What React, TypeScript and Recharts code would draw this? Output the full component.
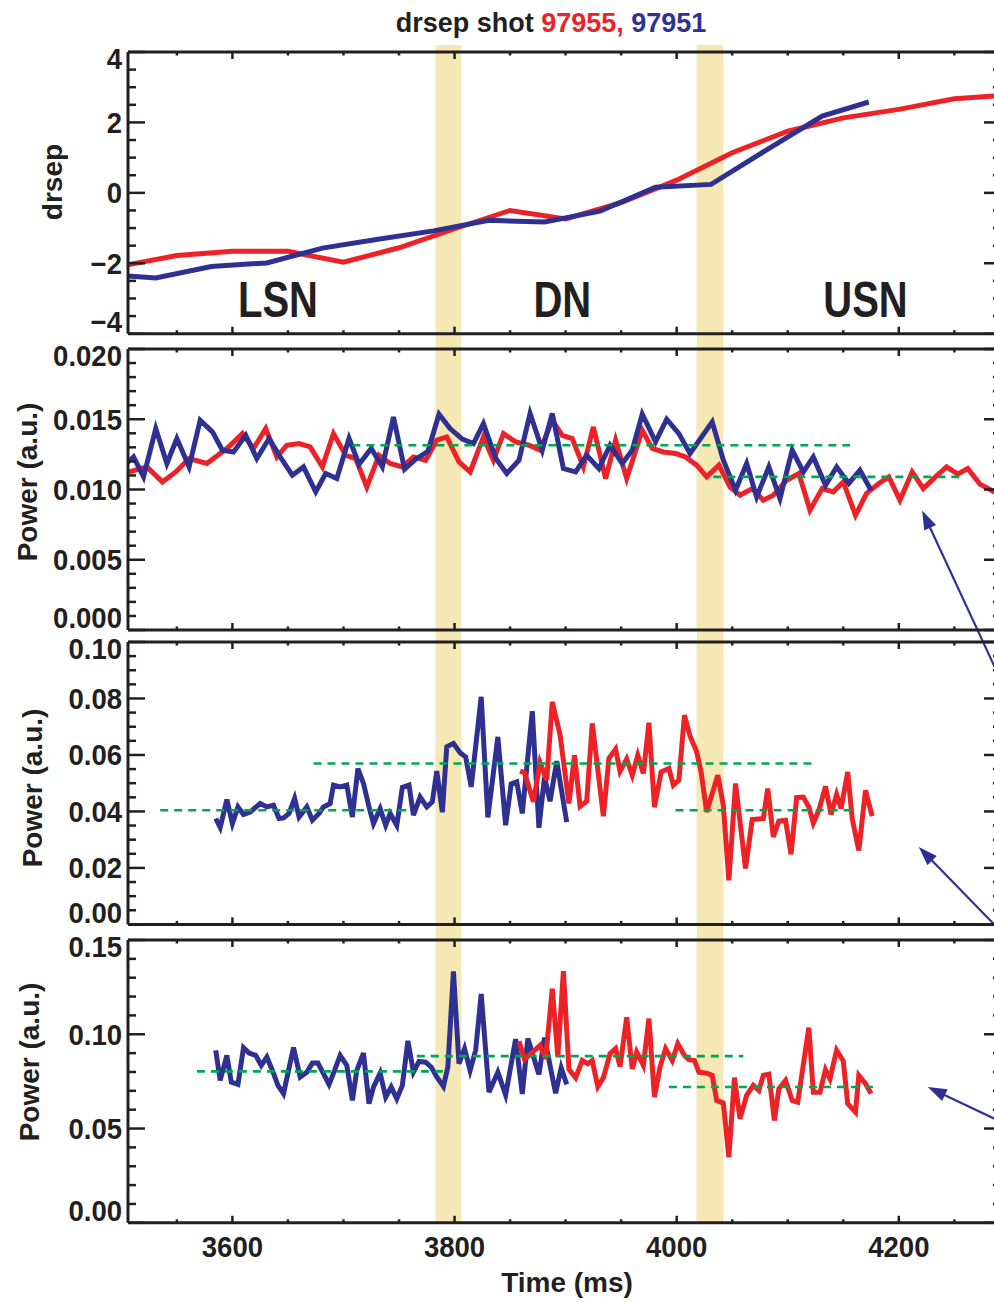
import React from 'react';
import { LineChart, Line, XAxis, YAxis, ReferenceArea, ReferenceLine, ReferenceDot } from 'recharts';

const FONT = '"Liberation Sans", Arial, Helvetica, sans-serif';
const INK = '#231f20';
const RED = '#ec2227';
const BLUE = '#2e3192';
const GREEN = '#00a651';
const BAND = '#f6e8b4';

// shared time axis (ms)
const T_MIN = 3506;
const T_MAX = 4292;
const xTicks = [3550, 3600, 3650, 3700, 3750, 3800, 3850, 3900, 3950, 4000, 4050, 4100, 4150, 4200, 4250];
const xMajor = [3600, 3800, 4000, 4200];
const transitions = [
  { from: 3783, to: 3806 },
  { from: 4018, to: 4042 },
];

// panel 1: drsep
const drsep97955: [number, number][] = [
  [3500, -2.08], [3550, -1.78], [3600, -1.66], [3650, -1.66], [3700, -1.97], [3750, -1.56],
  [3800, -1.02], [3850, -0.5], [3900, -0.74], [3950, -0.28], [4000, 0.36], [4050, 1.14],
  [4100, 1.75], [4150, 2.13], [4200, 2.37], [4250, 2.67], [4300, 2.78],
];
const drsep97951: [number, number][] = [
  [3500, -2.35], [3531, -2.42], [3581, -2.09], [3631, -1.99], [3681, -1.57], [3731, -1.32],
  [3781, -1.08], [3831, -0.78], [3881, -0.83], [3931, -0.52], [3981, 0.16], [4031, 0.24],
  [4081, 1.22], [4131, 2.18], [4173, 2.58],
];
const regions = [
  { name: 'LSN', t: 3641 },
  { name: 'DN', t: 3897 },
  { name: 'USN', t: 4170 },
];

// panel 2
const p2Red: [number, number][] = [
  [3507, 0.01125], [3523, 0.01161], [3537, 0.01054], [3549, 0.01125], [3561, 0.0122], [3577, 0.01185],
  [3595, 0.01292], [3609, 0.01398], [3619, 0.01292], [3630, 0.01434], [3640, 0.01232], [3649, 0.01315],
  [3660, 0.01327], [3670, 0.01303], [3681, 0.01161], [3691, 0.01398], [3702, 0.01244], [3711, 0.0122],
  [3721, 0.01018], [3732, 0.01244], [3742, 0.01185], [3753, 0.01161], [3763, 0.01232], [3774, 0.01208],
  [3784, 0.01351], [3793, 0.01374], [3804, 0.01196], [3814, 0.01125], [3826, 0.01374], [3835, 0.01208],
  [3844, 0.01398], [3855, 0.01339], [3867, 0.01315], [3877, 0.0128], [3888, 0.01493], [3897, 0.01386],
  [3906, 0.01363], [3916, 0.01161], [3925, 0.01445], [3936, 0.01078], [3945, 0.01351], [3955, 0.01078],
  [3969, 0.01422], [3978, 0.01292], [3988, 0.01267], [3999, 0.01256], [4008, 0.01232], [4018, 0.01173],
  [4027, 0.0109], [4038, 0.01173], [4048, 0.01018], [4057, 0.00959], [4068, 0.01007], [4078, 0.00924],
  [4087, 0.0096], [4099, 0.01066], [4110, 0.01114], [4120, 0.00853], [4131, 0.01007], [4141, 0.00983],
  [4150, 0.01054], [4161, 0.00817], [4171, 0.00972], [4182, 0.01043], [4191, 0.0109], [4201, 0.00924],
  [4212, 0.01125], [4222, 0.01007], [4233, 0.0109], [4243, 0.01161], [4253, 0.01109], [4262, 0.01149],
  [4273, 0.01038], [4286, 0.00983], [4296, 0.0096],
];
const p2Blue: [number, number][] = [
  [3503, 0.01173], [3511, 0.01232], [3520, 0.0109], [3531, 0.01434], [3541, 0.01185], [3550, 0.01363],
  [3561, 0.01161], [3571, 0.01493], [3582, 0.0141], [3591, 0.0128], [3601, 0.01267], [3612, 0.01386],
  [3622, 0.0122], [3633, 0.01363], [3643, 0.01232], [3654, 0.01102], [3664, 0.01161], [3675, 0.00983],
  [3684, 0.01114], [3694, 0.01078], [3705, 0.01363], [3714, 0.0118], [3725, 0.01292], [3735, 0.01161],
  [3745, 0.01516], [3755, 0.01144], [3765, 0.01216], [3776, 0.01272], [3786, 0.01536], [3796, 0.01434],
  [3807, 0.01358], [3817, 0.01327], [3826, 0.01469], [3837, 0.01223], [3847, 0.01114], [3858, 0.01208],
  [3868, 0.01541], [3879, 0.0128], [3888, 0.01541], [3898, 0.01149], [3909, 0.01125], [3919, 0.01244],
  [3930, 0.01149], [3940, 0.01315], [3951, 0.01185], [3960, 0.0128], [3969, 0.01536], [3981, 0.01339],
  [3991, 0.015], [4002, 0.01398], [4012, 0.01256], [4032, 0.01481], [4042, 0.01208], [4053, 0.00995],
  [4063, 0.01185], [4072, 0.00947], [4083, 0.01161], [4093, 0.00936], [4104, 0.0128], [4114, 0.01125],
  [4123, 0.01232], [4134, 0.0103], [4144, 0.01161], [4155, 0.01043], [4165, 0.01137], [4175, 0.00995],
];
const p2Levels = [
  { from: 3708, to: 4156, v: 0.01315 },
  { from: 4033, to: 4257, v: 0.0109 },
];

// panel 3
const p3Blue: [number, number][] = [
  [3585, 0.0375], [3589, 0.0343], [3595, 0.0442], [3600, 0.0357], [3605, 0.0416], [3610, 0.0389],
  [3616, 0.0398], [3625, 0.0428], [3631, 0.0416], [3637, 0.0422], [3642, 0.0375], [3646, 0.0377],
  [3651, 0.0393], [3656, 0.0446], [3660, 0.038], [3667, 0.0416], [3672, 0.0369], [3678, 0.0393],
  [3682, 0.0416], [3688, 0.0428], [3691, 0.0493], [3697, 0.0487], [3703, 0.0493], [3708, 0.038],
  [3713, 0.0552], [3718, 0.0499], [3723, 0.0416], [3727, 0.0357], [3733, 0.041], [3738, 0.0351],
  [3742, 0.0393], [3748, 0.0351], [3753, 0.0485], [3759, 0.0493], [3763, 0.0387], [3769, 0.0451],
  [3775, 0.0416], [3780, 0.0434], [3784, 0.0543], [3789, 0.0397], [3793, 0.0629], [3799, 0.0641],
  [3805, 0.0608], [3810, 0.0593], [3815, 0.0487], [3824, 0.0806], [3830, 0.0379], [3839, 0.0664],
  [3846, 0.0351], [3851, 0.0498], [3856, 0.0505], [3861, 0.0393], [3870, 0.0755], [3876, 0.0342],
  [3881, 0.0522], [3886, 0.0436], [3892, 0.0578], [3901, 0.0362],
];
const p3Red: [number, number][] = [
  [3859, 0.0543], [3863, 0.0537], [3871, 0.0434], [3877, 0.0573], [3883, 0.0511], [3888, 0.0788],
  [3895, 0.0671], [3903, 0.0428], [3908, 0.0599], [3913, 0.0418], [3919, 0.0436], [3924, 0.0712],
  [3934, 0.0383], [3939, 0.0588], [3945, 0.0621], [3949, 0.0542], [3955, 0.0586], [3960, 0.0528],
  [3965, 0.0599], [3970, 0.0534], [3975, 0.0714], [3980, 0.0415], [3986, 0.054], [3993, 0.0552],
  [3997, 0.0493], [4002, 0.0511], [4007, 0.0741], [4012, 0.0667], [4018, 0.0611], [4022, 0.054],
  [4027, 0.0398], [4032, 0.0463], [4037, 0.0528], [4042, 0.0422], [4047, 0.0156], [4053, 0.0499],
  [4062, 0.0198], [4068, 0.0371], [4078, 0.0375], [4082, 0.0481], [4087, 0.031], [4092, 0.0366],
  [4098, 0.0369], [4103, 0.0248], [4108, 0.0449], [4114, 0.0451], [4119, 0.0416], [4123, 0.0359],
  [4128, 0.0404], [4134, 0.0489], [4139, 0.0389], [4144, 0.046], [4148, 0.041], [4154, 0.054],
  [4158, 0.0375], [4164, 0.0262], [4170, 0.0475], [4176, 0.0383],
];
const p3Levels = [
  { from: 3535, to: 3758, v: 0.0404 },
  { from: 3673, to: 4122, v: 0.057 },
  { from: 3999, to: 4162, v: 0.0404 },
];

// panel 4
const p4Blue: [number, number][] = [
  [3585, 0.0915], [3589, 0.0755], [3595, 0.0888], [3599, 0.0746], [3605, 0.0734], [3610, 0.0929],
  [3615, 0.09], [3621, 0.0888], [3626, 0.0835], [3631, 0.0879], [3636, 0.0808], [3641, 0.0729],
  [3646, 0.0685], [3655, 0.0929], [3661, 0.0773], [3667, 0.0799], [3672, 0.0847], [3677, 0.0847],
  [3682, 0.0791], [3687, 0.0734], [3692, 0.0808], [3697, 0.0888], [3703, 0.0835], [3708, 0.0649],
  [3712, 0.0808], [3718, 0.09], [3723, 0.0632], [3727, 0.072], [3733, 0.0794], [3738, 0.0667],
  [3743, 0.072], [3748, 0.0658], [3753, 0.0729], [3758, 0.0965], [3763, 0.0799], [3768, 0.0856],
  [3774, 0.0852], [3779, 0.0826], [3784, 0.0774], [3790, 0.0723], [3794, 0.0827], [3799, 0.1333],
  [3804, 0.0844], [3809, 0.0924], [3814, 0.0808], [3819, 0.0915], [3824, 0.1214], [3831, 0.0693],
  [3839, 0.0799], [3846, 0.0678], [3855, 0.0974], [3861, 0.0683], [3866, 0.0977], [3876, 0.0787],
  [3881, 0.0982], [3891, 0.0687], [3896, 0.0822], [3901, 0.0734],
];
const p4Red: [number, number][] = [
  [3858, 0.0963], [3863, 0.0867], [3869, 0.0897], [3877, 0.0941], [3882, 0.087], [3888, 0.1242],
  [3893, 0.0879], [3898, 0.1335], [3903, 0.0814], [3909, 0.0769], [3915, 0.0861], [3920, 0.0844],
  [3924, 0.0861], [3929, 0.0722], [3934, 0.0769], [3940, 0.0897], [3945, 0.0924], [3949, 0.0828],
  [3955, 0.109], [3960, 0.0817], [3964, 0.0906], [3970, 0.0835], [3975, 0.1083], [3980, 0.0667],
  [3985, 0.0826], [3990, 0.0924], [3996, 0.0861], [4001, 0.095], [4007, 0.0888], [4011, 0.0865],
  [4016, 0.0861], [4020, 0.0799], [4027, 0.0794], [4032, 0.0782], [4036, 0.0649], [4042, 0.0635],
  [4047, 0.0348], [4052, 0.077], [4057, 0.0552], [4063, 0.0676], [4069, 0.0729], [4074, 0.0702],
  [4078, 0.0782], [4083, 0.0788], [4088, 0.0543], [4092, 0.0711], [4098, 0.0755], [4104, 0.0649],
  [4109, 0.064], [4119, 0.1035], [4123, 0.0693], [4129, 0.0693], [4134, 0.0812], [4138, 0.0764],
  [4144, 0.0915], [4150, 0.0858], [4154, 0.0632], [4161, 0.0587], [4164, 0.0782], [4170, 0.0738],
  [4175, 0.0685],
];
const p4Levels = [
  { from: 3568, to: 3792, v: 0.0803 },
  { from: 3766, to: 4060, v: 0.0884 },
  { from: 3993, to: 4180, v: 0.072 },
];

const p1Ticks = [-4, -3.5, -3, -2.5, -2, -1.5, -1, -0.5, 0, 0.5, 1, 1.5, 2, 2.5, 3, 3.5, 4];
const p1Major = [-4, -2, 0, 2, 4];
const p1Labels = ['\u22124', '\u22122', '0', '2', '4'];
const p2Ticks = [0, 0.001, 0.002, 0.003, 0.004, 0.005, 0.006, 0.007, 0.008, 0.009, 0.01, 0.011, 0.012, 0.013, 0.014, 0.015, 0.016, 0.017, 0.018, 0.019, 0.02];
const p2Major = [0, 0.005, 0.01, 0.015, 0.02];
const p2Labels = ['0.000', '0.005', '0.010', '0.015', '0.020'];
const p3Ticks = [0, 0.005, 0.01, 0.015, 0.02, 0.025, 0.03, 0.035, 0.04, 0.045, 0.05, 0.055, 0.06, 0.065, 0.07, 0.075, 0.08, 0.085, 0.09, 0.095, 0.1];
const p3Major = [0, 0.02, 0.04, 0.06, 0.08, 0.1];
const p3Labels = ['0.00', '0.02', '0.04', '0.06', '0.08', '0.10'];
const p4Ticks = [0, 0.01, 0.02, 0.03, 0.04, 0.05, 0.06, 0.07, 0.08, 0.09, 0.1, 0.11, 0.12, 0.13, 0.14, 0.15];
const p4Major = [0, 0.05, 0.1, 0.15];
const p4Labels = ['0.00', '0.05', '0.10', '0.15'];

// annotation arrows (tail, head) in each panel's data units
const p2Arrow = { tail: [4292, -0.0036], head: [4221, 0.0085] };
const p3Arrow = { tail: [4292, -0.0025], head: [4218, 0.0274] };
const p4Arrow = { tail: [4292, 0.0536], head: [4226, 0.072] };

const toPts = (arr: [number, number][]) => arr.map(([t, v]) => ({ t, v }));

const CHART_W = 1002;
const LEFT = 128;
const TOP_PAD = 30;
const TICK_FONT = 29;

const near = (a: number, b: number) => Math.abs(a - b) < 1e-9;

function YTick(props: any) {
  const { x, y, payload, side, major, labels, lo, hi } = props;
  const v = payload.value;
  const idx = major.findIndex((m: number) => near(m, v));
  const isMajor = idx >= 0;
  const len = isMajor ? 17 : 8;
  const dir = side === 'left' ? 1 : -1;
  let dy = 0;
  if (near(v, hi)) dy = 7;
  if (near(v, lo)) dy = -12;
  return (
    <g>
      <line x1={x} y1={y} x2={x + dir * len} y2={y} stroke={INK} strokeWidth={2.5} />
      {side === 'left' && isMajor && (
        <text transform={`translate(${x - 6},${y + dy}) scale(0.95,1)`} textAnchor="end" dominantBaseline="central"
          style={{ fontFamily: FONT, fontWeight: 'bold', fontSize: TICK_FONT, fill: INK }}>
          {labels[idx]}
        </text>
      )}
    </g>
  );
}

function XTick(props: any) {
  const { x, y, payload, side, showLabel } = props;
  const v = payload.value;
  const isMajor = xMajor.includes(v);
  const len = isMajor ? 7 : 3.5;
  const dir = side === 'bottom' ? -1 : 1;
  return (
    <g>
      <line x1={x} y1={y} x2={x} y2={y + dir * len} stroke={INK} strokeWidth={2.5} />
      {showLabel && isMajor && (
        <text transform={`translate(${x},${y + 24}) scale(0.95,1)`} textAnchor="middle" dominantBaseline="central"
          style={{ fontFamily: FONT, fontWeight: 'bold', fontSize: TICK_FONT, fill: INK }}>
          {v}
        </text>
      )}
    </g>
  );
}

function RegionLabel(props: any) {
  const { viewBox, value } = props;
  return (
    <text transform={`translate(${viewBox.x},${viewBox.y}) scale(0.8,1)`} textAnchor="middle" dominantBaseline="central"
      style={{ fontFamily: FONT, fontWeight: 'bold', fontSize: 50, fill: INK }}>
      {value}
    </text>
  );
}

function Arrow(props: any) {
  const { x1, y1, x2, y2 } = props;
  const ang = Math.atan2(y2 - y1, x2 - x1);
  const L = 19;
  const W = 6.5;
  const bx = x2 - L * Math.cos(ang);
  const by = y2 - L * Math.sin(ang);
  const px = -Math.sin(ang) * W;
  const py = Math.cos(ang) * W;
  return (
    <g>
      <line x1={x1} y1={y1} x2={bx + 4 * Math.cos(ang)} y2={by + 4 * Math.sin(ang)} stroke={BLUE} strokeWidth={2.2} />
      <polygon points={`${x2},${y2} ${bx + px},${by + py} ${bx - px},${by - py}`} fill={BLUE} />
    </g>
  );
}

type Series = { data: [number, number][]; color: string };
type PanelProps = {
  top: number;
  h: number;
  bottomPad: number;
  domain: [number, number];
  ticks: number[];
  major: number[];
  labels: string[];
  series: Series[];
  levels?: { from: number; to: number; v: number }[];
  arrow?: { tail: number[]; head: number[] };
  showX?: boolean;
  regionY?: number;
};

function Panel(p: PanelProps) {
  const axisLine = { stroke: INK, strokeWidth: 3 };
  const yTick = (side: string) => (
    <YTick side={side} major={p.major} labels={p.labels} lo={p.domain[0]} hi={p.domain[1]} />
  );
  return (
    <div style={{ position: 'absolute', left: 0, top: p.top - TOP_PAD }}>
      <LineChart width={CHART_W} height={p.h + TOP_PAD + p.bottomPad}
        margin={{ top: TOP_PAD - 1, right: 0, left: 0, bottom: p.bottomPad - 1 }}>
        {transitions.map((b, i) => (
          <ReferenceArea key={'band' + i} xAxisId="b" yAxisId="l" x1={b.from} x2={b.to}
            fill={BAND} fillOpacity={1} stroke="none" />
        ))}
        <XAxis xAxisId="b" dataKey="t" type="number" domain={[T_MIN, T_MAX]} allowDataOverflow
          ticks={xTicks} interval={0} height={1} tickSize={0} tickMargin={0} tickLine={false}
          axisLine={axisLine} tick={<XTick side="bottom" showLabel={!!p.showX} />} />
        <XAxis xAxisId="t" orientation="top" dataKey="t" type="number" domain={[T_MIN, T_MAX]} allowDataOverflow
          ticks={xTicks} interval={0} height={1} tickSize={0} tickMargin={0} tickLine={false}
          axisLine={axisLine} tick={<XTick side="top" showLabel={false} />} />
        <YAxis yAxisId="l" type="number" domain={p.domain} allowDataOverflow ticks={p.ticks} interval={0}
          width={LEFT} tickSize={0} tickMargin={0} tickLine={false} axisLine={axisLine} tick={yTick('left')} />
        <YAxis yAxisId="r" orientation="right" type="number" domain={p.domain} allowDataOverflow ticks={p.ticks}
          interval={0} width={1} tickSize={0} tickMargin={0} tickLine={false} axisLine={axisLine} tick={yTick('right')} />
        {p.series.map((s, i) => (
          <Line key={i} xAxisId="b" yAxisId="l" data={toPts(s.data)} dataKey="v" type="linear"
            stroke={s.color} strokeWidth={5} dot={false} activeDot={false} isAnimationActive={false} />
        ))}
        {(p.levels || []).map((lv, i) => (
          <ReferenceLine key={'lv' + i} xAxisId="b" yAxisId="l" ifOverflow="visible"
            segment={[{ x: lv.from, y: lv.v }, { x: lv.to, y: lv.v }]}
            stroke={GREEN} strokeWidth={2.6} strokeDasharray="8 6" />
        ))}
        {p.arrow && (
          <ReferenceLine xAxisId="b" yAxisId="l" ifOverflow="visible"
            segment={[{ x: p.arrow.tail[0], y: p.arrow.tail[1] }, { x: p.arrow.head[0], y: p.arrow.head[1] }]}
            shape={Arrow} />
        )}
        {p.regionY !== undefined && regions.map((r) => (
          <ReferenceDot key={r.name} xAxisId="b" yAxisId="l" x={r.t} y={p.regionY} r={0} stroke="none" fill="none"
            ifOverflow="visible" label={<RegionLabel value={r.name} />} />
        ))}
      </LineChart>
    </div>
  );
}

// gaps between panels where the transition bands continue
function BandGaps() {
  return (
    <div style={{ position: 'absolute', left: 0, top: 0 }}>
      <LineChart width={CHART_W} height={1222} margin={{ top: 45, right: 1, left: LEFT, bottom: 0 }}
        data={transitions.map((b) => ({ t: b.from, v: 0 }))}>
        <XAxis dataKey="t" type="number" domain={[T_MIN, T_MAX]} allowDataOverflow hide />
        <YAxis type="number" domain={[0, 1]} hide />
        <Line dataKey="v" stroke="none" dot={false} activeDot={false} isAnimationActive={false} />
        {transitions.map((b, i) => (
          <ReferenceArea key={i} x1={b.from} x2={b.to} fill={BAND} fillOpacity={1} stroke="none" />
        ))}
      </LineChart>
    </div>
  );
}

const titleFont = { fontFamily: FONT, fontWeight: 'bold' as const, color: INK, whiteSpace: 'nowrap' as const };

function VTitle({ text, cx, cy }: { text: string; cx: number; cy: number }) {
  return (
    <div style={{ ...titleFont, position: 'absolute', left: cx, top: cy, fontSize: 28, lineHeight: '32px',
      transform: 'translate(-50%, -50%) rotate(-90deg)' }}>
      {text}
    </div>
  );
}

export default function App() {
  return (
    <div style={{ position: 'absolute', left: 0, top: 0, width: 994, height: 1302, overflow: 'hidden', background: '#fff' }}>
      <style>{'.recharts-surface{overflow:visible}'}</style>
      <BandGaps />

      <Panel top={52.3} h={281.7} bottomPad={20} domain={[-4, 4]} ticks={p1Ticks} major={p1Major} labels={p1Labels}
        series={[{ data: drsep97955, color: RED }, { data: drsep97951, color: BLUE }]} regionY={-3.04} />
      <Panel top={348.6} h={281} bottomPad={20} domain={[0, 0.02]} ticks={p2Ticks} major={p2Major} labels={p2Labels}
        series={[{ data: p2Red, color: RED }, { data: p2Blue, color: BLUE }]} levels={p2Levels} arrow={p2Arrow} />
      <Panel top={641.6} h={282.4} bottomPad={20} domain={[0, 0.1]} ticks={p3Ticks} major={p3Major} labels={p3Labels}
        series={[{ data: p3Blue, color: BLUE }, { data: p3Red, color: RED }]} levels={p3Levels} arrow={p3Arrow} />
      <Panel top={939.5} h={282.8} bottomPad={70} domain={[0, 0.15]} ticks={p4Ticks} major={p4Major} labels={p4Labels}
        series={[{ data: p4Blue, color: BLUE }, { data: p4Red, color: RED }]} levels={p4Levels} arrow={p4Arrow} showX />

      <div style={{ ...titleFont, position: 'absolute', left: 551, top: 7, fontSize: 27, lineHeight: '32px',
        transform: 'translateX(-50%)' }}>
        drsep shot <span style={{ color: RED }}>97955,</span> <span style={{ color: BLUE }}>97951</span>
      </div>
      <VTitle text="drsep" cx={53} cy={182} />
      <VTitle text="Power (a.u.)" cx={28} cy={482} />
      <VTitle text="Power (a.u.)" cx={33} cy={788} />
      <VTitle text="Power (a.u.)" cx={30} cy={1062} />
      <div style={{ ...titleFont, position: 'absolute', left: 567, top: 1283, fontSize: 28, lineHeight: '34px',
        transform: 'translate(-50%, -50%)' }}>
        Time (ms)
      </div>
    </div>
  );
}
